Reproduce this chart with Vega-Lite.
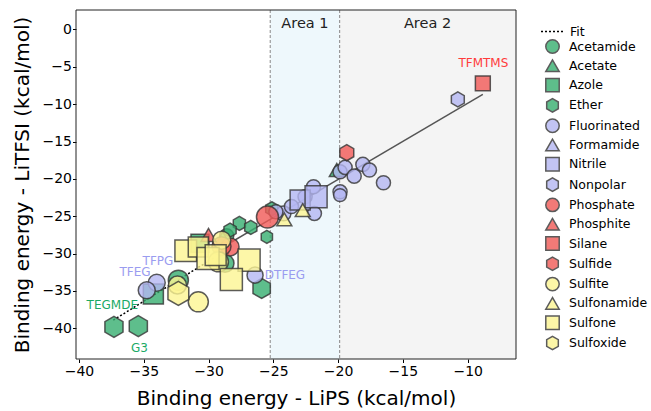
{
  "$schema": "https://vega.github.io/schema/vega-lite/v6.json",
  "width": 440,
  "height": 349,
  "autosize": {"type": "none"},
  "padding": {"left": 76, "top": 10, "right": 135, "bottom": 52},
  "config": {
    "font": "DejaVu Sans",
    "view": {"stroke": null},
    "axis": {
      "grid": false,
      "domain": false,
      "tickSize": 3.5,
      "tickColor": "#000",
      "labelFontSize": 14,
      "labelColor": "#000",
      "titleFontSize": 20,
      "titleFontWeight": "normal",
      "titleColor": "#000",
      "labelFont": "DejaVu Sans",
      "titleFont": "DejaVu Sans"
    }
  },
  "layer": [
    {
      "data": {"values": [{"a": -25.24, "b": -19.88}]},
      "mark": {"type": "rect", "fill": "#eef8fc"},
      "encoding": {
        "x": {"field": "a", "type": "quantitative", "scale": {"domain": [-40.23, -6.27], "nice": false, "zero": false}},
        "x2": {"field": "b"}
      }
    },
    {
      "data": {"values": [{"a": -19.88, "b": -6.27}]},
      "mark": {"type": "rect", "fill": "#f4f4f4"},
      "encoding": {
        "x": {"field": "a", "type": "quantitative", "scale": {"domain": [-40.23, -6.27], "nice": false, "zero": false}},
        "x2": {"field": "b"}
      }
    },
    {
      "data": {"values": [{"a": -25.24}, {"a": -19.88}]},
      "mark": {"type": "rule", "color": "#888", "strokeDash": [3, 2], "strokeWidth": 1},
      "encoding": {
        "x": {"field": "a", "type": "quantitative", "scale": {"domain": [-40.23, -6.27], "nice": false, "zero": false}}
      }
    },
    {
      "data": {"values": [{"t": "Area 1", "x": -22.56, "y": 0.7}, {"t": "Area 2", "x": -13.1, "y": 0.7}]},
      "mark": {"type": "text", "fontSize": 14.5, "color": "#222", "font": "DejaVu Sans"},
      "encoding": {
        "x": {"field": "x", "type": "quantitative", "scale": {"domain": [-40.23, -6.27], "nice": false, "zero": false}},
        "y": {"field": "y", "type": "quantitative", "scale": {"domain": [-44.1, 2.6], "nice": false, "zero": false}},
        "text": {"field": "t"}
      }
    },
    {
      "data": {"values": [{"lips": -29.5, "litfsi": -29.75}, {"lips": -8.83, "litfsi": -8.69}]},
      "mark": {"type": "line", "color": "#555", "strokeWidth": 1.5},
      "encoding": {
        "x": {"field": "lips", "type": "quantitative", "scale": {"domain": [-40.23, -6.27], "nice": false, "zero": false}},
        "y": {"field": "litfsi", "type": "quantitative", "scale": {"domain": [-44.1, 2.6], "nice": false, "zero": false}}
      }
    },
    {
      "data": {"values": [{"lips": -37.35, "litfsi": -38.9, "name": "Fit"}, {"lips": -29.5, "litfsi": -30.47, "name": "Fit"}]},
      "mark": {"type": "line", "color": "#000", "strokeWidth": 1.5},
      "encoding": {
        "x": {"field": "lips", "type": "quantitative", "scale": {"domain": [-40.23, -6.27], "nice": false, "zero": false}},
        "y": {"field": "litfsi", "type": "quantitative", "scale": {"domain": [-44.1, 2.6], "nice": false, "zero": false}},
        "strokeDash": {
          "field": "name", "type": "nominal",
          "scale": {"domain": ["Fit"], "range": [[2, 2]]},
          "legend": {
            "orient": "none", "legendX": 464, "legendY": 9, "title": null, "padding": 0,
            "symbolType": "stroke", "symbolSize": 529, "symbolStrokeColor": "#000", "symbolStrokeWidth": 1.5,
            "labelFontSize": 12.5, "labelColor": "#000", "labelFont": "DejaVu Sans", "labelOffset": 5
          }
        }
      }
    },
    {
      "data": {"values": [
        {"class": "Acetamide", "lips": -32.33, "litfsi": -33.55, "vol": 67},
        {"class": "Acetamide", "lips": -28.73, "litfsi": -31.3, "vol": 54},
        {"class": "Acetamide", "lips": -28.6, "litfsi": -27.6, "vol": 33},
        {"class": "Acetate", "lips": -20.1, "litfsi": -18.8, "vol": 37},
        {"class": "Acetate", "lips": -28.9, "litfsi": -27.9, "vol": 33},
        {"class": "Azole", "lips": -34.26, "litfsi": -35.4, "vol": 67},
        {"class": "Azole", "lips": -30.66, "litfsi": -28.6, "vol": 54},
        {"class": "Ether", "lips": -37.3, "litfsi": -39.8, "vol": 73},
        {"class": "Ether", "lips": -35.42, "litfsi": -39.7, "vol": 73},
        {"class": "Ether", "lips": -25.9, "litfsi": -34.66, "vol": 67},
        {"class": "Ether", "lips": -27.62, "litfsi": -25.96, "vol": 33},
        {"class": "Ether", "lips": -26.74, "litfsi": -26.5, "vol": 33},
        {"class": "Ether", "lips": -25.5, "litfsi": -27.75, "vol": 28},
        {"class": "Ether", "lips": -25.12, "litfsi": -24.0, "vol": 33},
        {"class": "Ether", "lips": -28.34, "litfsi": -26.85, "vol": 33},
        {"class": "Fluorinated", "lips": -34.0, "litfsi": -33.9, "vol": 48},
        {"class": "Fluorinated", "lips": -34.77, "litfsi": -34.9, "vol": 48},
        {"class": "Fluorinated", "lips": -26.41, "litfsi": -32.88, "vol": 43},
        {"class": "Fluorinated", "lips": -24.22, "litfsi": -24.62, "vol": 37},
        {"class": "Fluorinated", "lips": -24.8, "litfsi": -24.4, "vol": 33},
        {"class": "Fluorinated", "lips": -23.6, "litfsi": -23.7, "vol": 33},
        {"class": "Fluorinated", "lips": -22.55, "litfsi": -22.4, "vol": 33},
        {"class": "Fluorinated", "lips": -21.9, "litfsi": -21.06, "vol": 33},
        {"class": "Fluorinated", "lips": -21.83, "litfsi": -24.62, "vol": 33},
        {"class": "Fluorinated", "lips": -19.85, "litfsi": -21.73, "vol": 33},
        {"class": "Fluorinated", "lips": -19.85, "litfsi": -22.17, "vol": 28},
        {"class": "Fluorinated", "lips": -19.85, "litfsi": -19.05, "vol": 33},
        {"class": "Fluorinated", "lips": -19.46, "litfsi": -18.46, "vol": 33},
        {"class": "Fluorinated", "lips": -18.76, "litfsi": -19.63, "vol": 33},
        {"class": "Fluorinated", "lips": -18.09, "litfsi": -18.06, "vol": 33},
        {"class": "Fluorinated", "lips": -17.58, "litfsi": -18.82, "vol": 33},
        {"class": "Fluorinated", "lips": -16.5, "litfsi": -20.52, "vol": 33},
        {"class": "Nitrile", "lips": -22.93, "litfsi": -22.83, "vol": 67},
        {"class": "Nitrile", "lips": -21.7, "litfsi": -22.4, "vol": 81},
        {"class": "Nonpolar", "lips": -10.76, "litfsi": -9.36, "vol": 37},
        {"class": "Phosphate", "lips": -25.45, "litfsi": -25.1, "vol": 81},
        {"class": "Phosphate", "lips": -28.34, "litfsi": -29.1, "vol": 54},
        {"class": "Phosphate", "lips": -29.0, "litfsi": -29.0, "vol": 60},
        {"class": "Phosphite", "lips": -30.0, "litfsi": -27.5, "vol": 37},
        {"class": "Silane", "lips": -8.83, "litfsi": -7.22, "vol": 37},
        {"class": "Sulfide", "lips": -19.33, "litfsi": -16.5, "vol": 43},
        {"class": "Sulfite", "lips": -28.98, "litfsi": -28.2, "vol": 54},
        {"class": "Sulfite", "lips": -29.24, "litfsi": -31.1, "vol": 67},
        {"class": "Sulfite", "lips": -30.79, "litfsi": -36.45, "vol": 67},
        {"class": "Sulfite", "lips": -32.4, "litfsi": -34.2, "vol": 54},
        {"class": "Sulfonamide", "lips": -22.73, "litfsi": -24.18, "vol": 37},
        {"class": "Sulfonamide", "lips": -24.15, "litfsi": -25.42, "vol": 37},
        {"class": "Sulfone", "lips": -31.76, "litfsi": -29.62, "vol": 78},
        {"class": "Sulfone", "lips": -30.79, "litfsi": -29.1, "vol": 67},
        {"class": "Sulfone", "lips": -30.04, "litfsi": -30.64, "vol": 81},
        {"class": "Sulfone", "lips": -29.45, "litfsi": -30.2, "vol": 73},
        {"class": "Sulfone", "lips": -26.87, "litfsi": -30.87, "vol": 81},
        {"class": "Sulfone", "lips": -28.24, "litfsi": -33.45, "vol": 81},
        {"class": "Sulfoxide", "lips": -32.33, "litfsi": -35.33, "vol": 96}
      ]},
      "mark": {"type": "point", "filled": true, "fillOpacity": 0.8, "stroke": "#333", "strokeOpacity": 0.8, "strokeWidth": 1.5},
      "encoding": {
        "x": {
          "field": "lips", "type": "quantitative",
          "scale": {"domain": [-40.23, -6.27], "nice": false, "zero": false},
          "axis": {"title": "Binding energy - LiPS (kcal/mol)", "values": [-40, -35, -30, -25, -20, -15, -10], "labelExpr": "replace(datum.label, '-', '−')", "labelPadding": 2, "titlePadding": 10}
        },
        "y": {
          "field": "litfsi", "type": "quantitative",
          "scale": {"domain": [-44.1, 2.6], "nice": false, "zero": false},
          "axis": {"title": "Binding energy - LiTFSI (kcal/mol)", "values": [-40, -35, -30, -25, -20, -15, -10, -5, 0], "labelExpr": "replace(datum.label, '-', '−')", "labelPadding": 1, "titlePadding": 9}
        },
        "color": {
          "field": "class", "type": "nominal",
          "scale": {
            "domain": ["Acetamide", "Acetate", "Azole", "Ether", "Fluorinated", "Formamide", "Nitrile", "Nonpolar", "Phosphate", "Phosphite", "Silane", "Sulfide", "Sulfite", "Sulfonamide", "Sulfone", "Sulfoxide"],
            "range": ["#36ae6f", "#36ae6f", "#36ae6f", "#36ae6f", "#b4b6f2", "#b4b6f2", "#b4b6f2", "#b4b6f2", "#f15956", "#f15956", "#f15956", "#f15956", "#fcf592", "#fcf592", "#fcf592", "#fcf592"]
          },
          "legend": {
            "orient": "none", "legendX": 469, "legendY": 29, "title": null, "padding": 0,
            "symbolSize": 180, "symbolOpacity": 0.8, "rowPadding": -0.7, "labelOffset": 9,
            "labelFontSize": 12.5, "labelColor": "#000", "labelFont": "DejaVu Sans",
            "encode": {"symbols": {"update": {"stroke": {"value": "#333"}, "strokeWidth": {"value": 1.5}}}}
          }
        },
        "shape": {
          "field": "class", "type": "nominal",
          "scale": {
            "domain": ["Acetamide", "Acetate", "Azole", "Ether", "Fluorinated", "Formamide", "Nitrile", "Nonpolar", "Phosphate", "Phosphite", "Silane", "Sulfide", "Sulfite", "Sulfonamide", "Sulfone", "Sulfoxide"],
            "range": ["circle", "triangle-up", "square", "M0,-1L0.866,-0.5L0.866,0.5L0,1L-0.866,0.5L-0.866,-0.5Z", "circle", "triangle-up", "square", "M0,-1L0.866,-0.5L0.866,0.5L0,1L-0.866,0.5L-0.866,-0.5Z", "circle", "triangle-up", "square", "M0,-1L0.866,-0.5L0.866,0.5L0,1L-0.866,0.5L-0.866,-0.5Z", "circle", "triangle-up", "square", "M0,-1L0.866,-0.5L0.866,0.5L0,1L-0.866,0.5L-0.866,-0.5Z"]
          },
          "legend": {
            "orient": "none", "legendX": 469, "legendY": 29, "title": null, "padding": 0,
            "symbolSize": 180, "symbolOpacity": 0.8, "rowPadding": -0.7, "labelOffset": 9,
            "labelFontSize": 12.5, "labelColor": "#000", "labelFont": "DejaVu Sans",
            "encode": {"symbols": {"update": {"stroke": {"value": "#333"}, "strokeWidth": {"value": 1.5}}}}
          }
        },
        "size": {"field": "vol", "type": "quantitative", "scale": {"domain": [0, 100], "range": [0, 600]}, "legend": null}
      }
    },
    {
      "data": {"values": [
        {"t": "TFMTMS", "x": -8.79, "y": -4.43, "g": "r"},
        {"t": "TFPG", "x": -33.9, "y": -30.94, "g": "b"},
        {"t": "TFEG", "x": -35.67, "y": -32.5, "g": "b"},
        {"t": "DTFEG", "x": -24.1, "y": -32.8, "g": "b"},
        {"t": "TEGMDE", "x": -37.43, "y": -36.84, "g": "g"},
        {"t": "G3", "x": -35.34, "y": -42.65, "g": "g"}
      ]},
      "mark": {"type": "text", "fontSize": 12, "font": "DejaVu Sans"},
      "encoding": {
        "x": {"field": "x", "type": "quantitative", "scale": {"domain": [-40.23, -6.27], "nice": false, "zero": false}},
        "y": {"field": "y", "type": "quantitative", "scale": {"domain": [-44.1, 2.6], "nice": false, "zero": false}},
        "text": {"field": "t"},
        "fill": {"field": "g", "type": "nominal", "scale": {"domain": ["r", "b", "g"], "range": ["#ff3b3b", "#9a9cf0", "#1aaa66"]}, "legend": null}
      }
    },
    {
      "data": {"values": [{}]},
      "mark": {"type": "rect", "fill": "transparent", "stroke": "#222", "strokeWidth": 1},
      "encoding": {}
    }
  ]
}
